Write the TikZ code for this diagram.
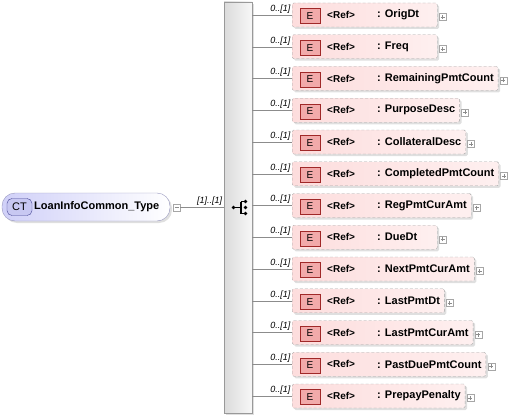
\documentclass[tikz,border=0pt]{standalone}
\usepackage{fontspec}
\setmainfont{Liberation Sans}
\usetikzlibrary{positioning,backgrounds,shadows}
\definecolor{ctfill}     {RGB}{208,208,248}
\definecolor{ctline}     {RGB}{150,150,190}
\definecolor{ctbadge}    {RGB}{200,200,242}
\definecolor{ctbadgeline}{RGB}{ 70, 70,150}
\definecolor{elfill}     {RGB}{253,221,221}
\definecolor{elbadge}    {RGB}{242,170,170}
\definecolor{elbadgeline}{RGB}{160, 40, 40}
\definecolor{wire}       {RGB}{140,140,140}

\begin{document}
\begin{tikzpicture}[x=1pt,y=-1pt,
    shade/.style={drop shadow={shadow xshift=2pt,shadow yshift=-2pt,opacity=0.25}},
    ctbox/.style={draw=ctline,rounded corners=13pt,minimum width=168pt,minimum height=28pt,
                  left color=ctfill,right color=white,shade},
    ctbadge/.style={draw=ctbadgeline,fill=ctbadge,rounded corners=5pt,minimum width=25pt,
                    minimum height=17pt,inner sep=0pt,font=\fontsize{11}{13}\selectfont},
    elbox/.style={draw=black!35,dash pattern=on 3pt off 2pt,rounded corners=1.5pt,
                  minimum height=24pt,inner sep=0pt,left color=elfill,right color=elfill!45,shade},
    elbadge/.style={draw=elbadgeline,fill=elbadge,minimum width=20pt,minimum height=15pt,
                    inner sep=0pt,font=\fontsize{10}{12}\selectfont},
    title/.style={inner sep=0pt,font=\fontsize{11}{13}\selectfont\bfseries},
    reftxt/.style={inner sep=0pt,font=\fontsize{10}{12}\selectfont\bfseries},
    mult/.style={text=black,inner sep=1.5pt,font=\fontsize{9}{10}\selectfont\itshape},
    pmbox/.style={draw=black!35,fill=white,minimum size=7pt,inner sep=0pt},
    plusbox/.style={pmbox,path picture={\draw[black!45] ([xshift=-2pt]path picture bounding box.center) -- ([xshift=2pt]path picture bounding box.center)
                    ([yshift=-2pt]path picture bounding box.center) -- ([yshift=2pt]path picture bounding box.center);}},
    minusbox/.style={pmbox,path picture={\draw[black!45] ([xshift=-2pt]path picture bounding box.center) -- ([xshift=2pt]path picture bounding box.center);}},
    seqbar/.style={draw=black!40,left color=black!14,right color=black!3,minimum width=28pt,
                   minimum height=411pt,inner sep=0pt,shade}]

    \useasboundingbox (0,0) rectangle (513,417);

    % complex type
    \node[ctbox] (ct) at (86,207) {};
    \node[ctbadge] (ctb) at (19.5,207) {CT};
    \node[title,anchor=west] (ctn) at (34,207) {LoanInfoCommon\_Type};
    \node[minusbox] (cm) at (176.5,207.5) {};

    % sequence
    \node[seqbar] (seq) at (238,207.5) {};
    \draw[wire] (cm.east) -- (seq.west |- cm.east) node[mult,pos=1,above left] {[1]..[1]};
    \fill (233.5,207.5) circle (1.8);
    \fill (245.5,201.5) circle (1.8) (245.5,207.5) circle (1.8) (245.5,213.5) circle (1.8);
    \draw[line width=1.2pt] (233.5,207.5) -- (241,207.5) (241,201.5) -- (241,213.5)
        (241,201.5) -- (245.5,201.5) (241,213.5) -- (245.5,213.5);

    % child elements
    \foreach \name [count=\i from 0] in {OrigDt,Freq,RemainingPmtCount,PurposeDesc,
        CollateralDesc,CompletedPmtCount,RegPmtCurAmt,DueDt,NextPmtCurAmt,LastPmtDt,
        LastPmtCurAmt,PastDuePmtCount,PrepayPenalty}
    {
        \pgfmathsetmacro\yy{15+31.75*\i}
        \node[elbadge] (e\i) at (310,\yy+1) {E};
        \node[reftxt,anchor=west] (r\i) at (327,\yy) {<Ref>};
        \node[title,anchor=west] (n\i) at (377,\yy) {: \name};
        \path (n\i.east); \pgfgetlastxy{\ex}{\ey}
        \pgfmathsetmacro\bx{max(\ex+4,437)}
        \begin{pgfonlayer}{background}
            \node[elbox,anchor=west,minimum width={\bx-292}] (b\i) at (292,\yy) {};
        \end{pgfonlayer}
        \node[plusbox] (p\i) at (\bx+5.5,\yy+2) {};
        \draw[wire] (seq.east |- b\i.west) -- (b\i.west) node[mult,pos=1,above left] {0..[1]};
    }

\end{tikzpicture}
\end{document}
